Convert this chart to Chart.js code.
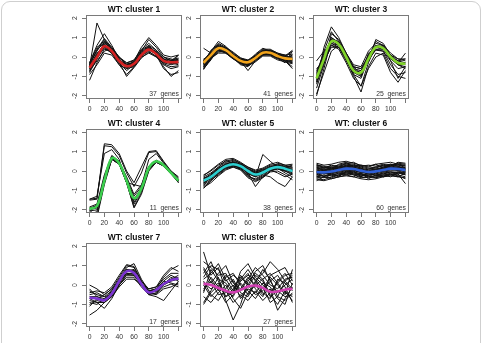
<!DOCTYPE html>
<html>
<head>
<meta charset="utf-8">
<script src="https://cdn.jsdelivr.net/npm/chart.js@4/dist/chart.umd.min.js"></script>
<style>
  body { margin: 0; background: #fff; }
  #wrap { position: relative; width: 483px; height: 343px; overflow: hidden; }
  #frame { position: absolute; left: 1px; top: 1px; width: 478px; height: 380px;
           border: 1px solid #cfcfcf; border-radius: 9px; }
  canvas { position: absolute; }
</style>
</head>
<body>
<div id="wrap"><div id="frame"></div></div>
<script>
// time points (minutes) and axis ticks
const times = [0, 10, 20, 30, 40, 50, 60, 70, 80, 90, 100, 110, 120];
const xTicks = [0, 20, 40, 60, 80, 100, 120];
const yTicks = [-2, -1, 0, 1, 2];

const titles = ['WT: cluster 1', 'WT: cluster 2', 'WT: cluster 3', 'WT: cluster 4',
                'WT: cluster 5', 'WT: cluster 6', 'WT: cluster 7', 'WT: cluster 8'];
const geneCounts = [37, 41, 25, 11, 38, 60, 17, 27];
const meanColors = ['#d42222', '#f2a41c', '#80d42a', '#3ccf4e', '#2ccfd0', '#2f5fd6', '#7b33d1', '#d23fb3'];

// cluster centroids
const mean1 = [-0.55, 0.0, 0.55, 0.3, -0.2, -0.47, -0.35, 0.1, 0.38, 0.15, -0.2, -0.27, -0.25];
const mean2 = [-0.3, 0.1, 0.45, 0.35, 0.05, -0.2, -0.27, -0.05, 0.22, 0.22, 0.05, -0.07, -0.1];
const mean3 = [-1.1, -0.1, 0.8, 0.65, 0.0, -0.7, -0.8, -0.1, 0.5, 0.45, 0.0, -0.3, -0.35];
const mean4 = [-1.95, -1.8, -0.5, 0.65, 0.4, -0.5, -1.4, -0.9, 0.15, 0.5, 0.3, -0.1, -0.5];
const mean5 = [-0.5, -0.3, 0.0, 0.25, 0.35, 0.25, 0.0, -0.18, -0.08, 0.12, 0.2, 0.12, 0.0];
const mean6 = [-0.05, -0.07, -0.03, 0.05, 0.12, 0.1, 0.02, -0.05, -0.02, 0.05, 0.12, 0.1, 0.05];
const mean7 = [-0.65, -0.7, -0.78, -0.45, 0.2, 0.7, 0.62, 0.05, -0.38, -0.25, 0.05, 0.25, 0.33];
const mean8 = [0.07, 0.0, -0.15, -0.3, -0.38, -0.25, -0.08, -0.03, -0.15, -0.35, -0.33, -0.24, -0.19];

// individual gene profiles (a readable subset of each cluster)
const genes1 = [
  [-0.5, 1.75, 0.9, 0.4, -0.1, -0.45, -0.3, 0.3, 0.9, 0.5, 0.0, -0.2, -0.1],
  [-0.3, 0.6, 1.2, 0.6, -0.1, -0.5, -0.2, 0.4, 0.7, 0.35, -0.1, -0.3, 0.1],
  [-0.8, -0.1, 0.8, 0.5, -0.1, -0.6, -0.5, 0.0, 0.5, 0.2, -0.4, -0.6, -0.5],
  [-1.2, -0.3, 0.4, 0.3, -0.3, -0.7, -0.4, 0.2, 0.45, 0.1, -0.6, -0.9, -0.8],
  [-0.4, 0.3, 0.9, 0.35, -0.2, -0.35, -0.3, 0.2, 0.4, 0.3, -0.2, -0.2, 0.1],
  [-0.6, 0.1, 0.7, 0.2, -0.3, -0.5, -0.4, 0.05, 0.3, 0.0, -0.3, -0.4, -0.3],
  [-0.7, -0.2, 0.3, 0.45, 0.0, -0.4, -0.3, 0.15, 0.45, 0.2, -0.1, -0.3, -0.4],
  [-0.5, 0.2, 0.5, 0.2, -0.4, -0.9, -0.5, 0.1, 0.6, 0.1, -0.5, -1.0, -0.7],
  [-0.4, 0.4, 0.95, 0.5, 0.0, -0.3, -0.2, 0.5, 1.0, 0.6, 0.1, 0.0, 0.1],
  [-0.9, -0.4, 0.2, 0.1, -0.4, -0.6, -0.3, 0.0, 0.2, 0.0, -0.3, -0.2, -0.2],
  [-0.6, 0.0, 0.6, 0.3, -0.2, -0.5, -0.4, 0.1, 0.35, 0.15, -0.25, -0.3, -0.3],
  [-0.3, 0.5, 0.8, 0.3, -0.15, -0.4, -0.25, 0.3, 0.55, 0.25, -0.1, -0.15, -0.05],
  [-0.75, 0.15, 0.65, 0.25, -0.25, -1.0, -0.55, -0.05, 0.25, 0.05, -0.35, -0.5, -0.45],
  [-0.45, 0.1, 0.45, 0.2, -0.2, -0.45, -0.3, 0.25, 0.5, 0.2, -0.15, -0.25, -0.15],
  [-0.35, 0.35, 0.75, 0.4, -0.05, -0.3, -0.15, 0.35, 0.6, 0.35, 0.0, -0.1, -0.2],
  [-0.65, -0.1, 0.5, 0.35, -0.15, -0.55, -0.45, 0.05, 0.4, 0.25, -0.2, -0.35, -0.1]
];
const genes2 = [
  [0.45, 0.2, 0.5, 0.4, 0.1, -0.15, -0.2, 0.0, 0.3, 0.25, 0.1, 0.0, 0.3],
  [-0.6, -0.1, 0.3, 0.25, 0.0, -0.3, -0.4, -0.15, 0.15, 0.15, 0.0, -0.2, -0.5],
  [-0.4, 0.3, 0.8, 0.55, 0.15, -0.1, -0.2, 0.05, 0.35, 0.35, 0.15, 0.0, 0.0],
  [-0.2, 0.15, 0.5, 0.3, 0.0, -0.3, -0.3, -0.05, 0.2, 0.2, 0.05, -0.1, -0.2],
  [-0.5, 0.0, 0.35, 0.4, 0.1, -0.2, -0.7, -0.2, 0.1, 0.3, 0.1, -0.2, -0.3],
  [-0.3, 0.2, 0.6, 0.4, 0.05, -0.25, -0.3, 0.0, 0.3, 0.2, 0.0, -0.05, 0.1],
  [-0.1, 0.05, 0.4, 0.2, -0.1, -0.2, -0.2, -0.1, 0.15, 0.1, -0.05, -0.15, -0.3],
  [-0.35, 0.15, 0.5, 0.45, 0.15, -0.15, -0.35, 0.0, 0.3, 0.3, 0.1, 0.05, 0.35],
  [-0.65, -0.05, 0.2, 0.2, -0.05, -0.4, -0.5, -0.1, 0.1, 0.1, -0.1, -0.2, -0.6],
  [-0.2, 0.3, 0.7, 0.5, 0.2, -0.05, -0.15, 0.1, 0.4, 0.4, 0.2, 0.05, 0.0],
  [-0.3, 0.1, 0.45, 0.35, 0.05, -0.2, -0.3, -0.05, 0.25, 0.2, 0.05, -0.1, -0.15],
  [-0.45, 0.05, 0.4, 0.3, 0.0, -0.3, -0.35, -0.1, 0.15, 0.2, 0.0, -0.1, -0.2],
  [-0.15, 0.25, 0.55, 0.4, 0.1, -0.1, -0.2, 0.05, 0.3, 0.25, 0.1, 0.0, -0.05],
  [-0.5, -0.1, 0.25, 0.3, 0.0, -0.25, -0.45, -0.2, 0.1, 0.15, -0.05, -0.3, 0.3],
  [-0.25, 0.2, 0.65, 0.45, 0.1, -0.15, -0.25, 0.05, 0.35, 0.3, 0.1, -0.05, -0.1],
  [-0.4, -0.05, 0.35, 0.25, -0.05, -0.35, -0.4, -0.1, 0.2, 0.15, -0.05, -0.15, -0.25],
  [-0.55, 0.0, 0.55, 0.5, 0.25, -0.05, -0.2, -0.05, 0.25, 0.35, 0.2, 0.1, 0.15],
  [-0.2, 0.2, 0.35, 0.2, -0.1, -0.35, -0.45, -0.25, 0.05, 0.05, -0.15, -0.25, -0.35],
  [-0.35, 0.35, 0.6, 0.3, 0.0, -0.15, -0.25, 0.15, 0.45, 0.3, 0.15, 0.1, -0.1],
  [-0.6, -0.15, 0.45, 0.45, 0.1, -0.3, -0.2, -0.1, 0.2, 0.25, -0.05, -0.15, 0.1]
];
const genes3 = [
  [-1.3, 0.5, 1.55, 1.0, 0.2, -0.6, -1.0, 0.0, 0.8, 0.6, -0.2, -0.6, -0.5],
  [-2.0, -0.6, 0.9, 0.8, 0.1, -0.9, -1.5, -0.3, 0.6, 0.5, 0.0, -0.4, -0.6],
  [-0.2, 0.3, 0.6, 0.5, 0.0, -0.5, -0.6, 0.0, 0.4, 0.4, -0.1, -0.3, 0.2],
  [-1.0, 0.0, 1.0, 0.7, 0.1, -0.6, -0.9, -0.2, 0.9, 0.7, 0.1, -0.2, -0.3],
  [-0.6, -0.2, 0.5, 0.5, -0.1, -1.0, -1.8, -0.5, 0.2, 0.1, -0.8, -1.3, -0.7],
  [-1.6, -0.4, 1.2, 0.9, 0.2, -0.4, -0.5, 0.3, 0.7, 0.6, 0.2, -0.1, -0.2],
  [-1.1, 0.1, 0.7, 0.5, -0.2, -0.9, -1.1, -0.1, 0.5, 0.4, -0.1, -0.4, -0.5],
  [-0.8, 0.2, 0.9, 0.7, 0.2, -0.5, -0.6, 0.1, 0.6, 0.5, 0.1, -0.1, -0.1],
  [-1.4, -0.3, 0.6, 0.4, -0.3, -1.1, -1.5, -0.6, 0.0, 0.2, -0.6, -1.0, -1.1],
  [-1.9, -0.8, 0.3, 0.6, 0.0, -0.8, -1.0, 0.2, 0.5, 0.45, 0.05, -0.35, -0.4],
  [-0.9, 0.3, 1.3, 0.8, 0.1, -0.6, -0.7, 0.0, 0.5, 0.6, 0.1, -0.4, -0.3],
  [-1.2, -0.1, 0.8, 0.6, 0.0, -0.7, -0.8, -0.2, 0.4, 0.3, -0.4, -0.9, -0.8],
  [-0.7, 0.0, 1.0, 0.75, 0.05, -0.5, -0.9, 0.1, 0.55, 0.5, 0.0, -0.2, -0.1],
  [-1.3, -0.2, 0.7, 0.6, -0.1, -0.8, -0.7, -0.1, 0.35, 0.3, -0.2, -1.1, -0.5]
];
const genes4 = [
  [-1.45, -1.4, 1.4, 1.35, 0.9, 0.0, -0.6, 0.2, 1.0, 1.05, 0.5, 0.0, -0.35],
  [-1.5, -1.45, 1.3, 1.25, 0.8, -0.1, -0.8, -0.1, 0.95, 1.0, 0.45, -0.05, -0.4],
  [-1.45, -1.3, 0.9, 1.1, 0.6, -0.6, -0.7, -0.8, 0.6, 0.9, 0.4, 0.0, -0.3],
  [-2.0, -1.9, -0.4, 0.7, 0.45, -0.5, -1.5, -1.0, 0.2, 0.5, 0.3, -0.1, -0.5],
  [-2.1, -2.3, -0.6, 0.6, 0.4, -0.6, -1.7, -1.0, 0.1, 0.45, 0.25, -0.15, -0.55],
  [-1.9, -1.8, -0.3, 0.75, 0.5, -0.4, -1.3, -0.8, 0.2, 0.55, 0.35, -0.05, -0.45],
  [-2.0, -2.4, -0.7, 0.6, 0.35, -0.6, -1.85, -1.1, 0.05, 0.45, 0.3, -0.1, -0.6],
  [-1.85, -1.7, -0.2, 0.8, 0.5, -0.3, -1.2, -0.7, 0.25, 0.55, 0.35, 0.0, -0.45],
  [-2.05, -2.0, -0.5, 0.65, 0.4, -0.55, -1.6, -1.0, 0.1, 0.5, 0.3, -0.1, -0.5],
  [-2.2, -2.1, -0.45, 0.7, 0.45, -0.45, -1.45, -0.9, 0.15, 0.5, 0.3, -0.05, -0.5],
  [-1.95, -1.75, -0.55, 0.6, 0.35, -0.6, -1.9, -1.2, 0.0, 0.45, 0.25, -0.15, -0.6]
];
const genes5 = [
  [-0.9, -0.5, -0.1, 0.2, 0.3, 0.1, -0.2, -0.5, -0.3, 0.0, 0.1, 0.0, -0.2],
  [-0.2, 0.0, 0.3, 0.5, 0.6, 0.4, 0.2, 0.0, 0.1, 0.3, 0.35, 0.25, 0.2],
  [-0.6, -0.4, 0.1, 0.4, 0.45, 0.3, -0.1, -0.3, 0.85, 0.5, 0.2, 0.0, 0.1],
  [-0.5, -0.2, 0.05, 0.3, 0.4, 0.3, 0.05, -0.1, 0.0, 0.2, 0.3, 0.2, 0.05],
  [-0.7, -0.45, -0.2, 0.1, 0.25, 0.15, -0.1, -0.8, -0.3, 0.0, 0.15, -0.1, -0.3],
  [-0.4, -0.25, 0.1, 0.35, 0.5, 0.35, 0.1, -0.1, 0.0, 0.2, 0.25, 0.15, 0.1],
  [-0.55, -0.3, 0.0, 0.2, 0.3, 0.2, -0.05, -0.2, -0.1, 0.1, 0.2, 0.1, 0.0],
  [-0.8, -0.5, -0.15, 0.15, 0.2, 0.1, -0.3, -0.4, -0.2, -0.3, -0.6, -0.8, -0.3],
  [-0.3, -0.1, 0.2, 0.45, 0.55, 0.4, 0.1, -0.05, 0.05, 0.25, 0.3, 0.2, 0.3],
  [-0.45, -0.35, -0.05, 0.25, 0.35, 0.25, 0.0, -0.2, -0.05, 0.15, 0.2, 0.1, -0.05],
  [-0.65, -0.2, 0.1, 0.3, 0.4, 0.2, -0.05, -0.25, -0.15, 0.05, 0.15, 0.05, -0.1],
  [-0.35, -0.25, 0.05, 0.3, 0.35, 0.3, 0.05, -0.15, -0.05, 0.15, 0.25, 0.15, 0.05],
  [-0.6, -0.35, -0.1, 0.15, 0.25, 0.2, -0.15, -0.3, -0.15, 0.05, 0.1, 0.0, -0.15],
  [-0.4, -0.15, 0.15, 0.35, 0.45, 0.3, 0.0, -0.15, 0.0, 0.2, 0.3, 0.2, 0.15],
  [-0.75, -0.2, 0.2, 0.55, 0.4, 0.15, -0.25, -0.45, -0.25, 0.1, 0.4, 0.3, 0.2],
  [-0.5, -0.4, -0.1, 0.2, 0.45, 0.35, 0.15, -0.05, 0.1, 0.05, -0.1, -0.3, -0.15],
  [-0.85, -0.6, -0.25, 0.05, 0.2, 0.05, -0.35, -0.55, -0.35, -0.05, 0.0, -0.2, -0.45],
  [-0.25, 0.05, 0.35, 0.6, 0.65, 0.45, 0.2, 0.05, 0.15, 0.35, 0.45, 0.3, 0.35]
];
const genes6 = [
  [0.3, 0.2, 0.25, 0.3, 0.4, 0.35, 0.2, 0.1, 0.2, 0.3, 0.35, 0.3, 0.25],
  [-0.4, -0.45, -0.3, -0.2, -0.15, -0.2, -0.3, -0.35, -0.3, -0.2, -0.15, -0.2, -0.3],
  [0.1, 0.0, 0.1, 0.15, 0.25, 0.2, 0.1, 0.0, 0.1, 0.15, 0.25, 0.2, 0.15],
  [-0.2, -0.25, -0.15, -0.05, 0.0, -0.05, -0.15, -0.2, -0.15, -0.05, 0.0, 0.0, -0.1],
  [0.0, -0.1, 0.05, 0.15, 0.2, 0.15, 0.05, -0.05, 0.0, 0.1, 0.2, 0.15, 0.1],
  [-0.1, 0.05, -0.05, 0.0, 0.1, 0.05, -0.05, -0.1, -0.05, 0.0, 0.1, 0.05, -0.05],
  [0.2, 0.1, 0.15, 0.2, 0.3, 0.25, 0.15, 0.05, 0.1, 0.2, 0.3, 0.25, 0.3],
  [-0.3, -0.2, -0.25, -0.1, -0.05, -0.1, -0.2, -0.3, -0.25, -0.15, -0.05, -0.1, -0.15],
  [0.05, -0.05, 0.0, 0.1, 0.15, 0.1, 0.0, -0.1, 0.0, 0.05, 0.15, 0.1, 0.05],
  [-0.15, -0.1, -0.1, 0.0, 0.05, 0.0, -0.05, -0.15, -0.1, 0.0, 0.05, 0.05, 0.0],
  [0.15, 0.05, 0.1, 0.2, 0.25, 0.2, 0.1, 0.0, 0.05, 0.15, 0.2, 0.2, 0.2],
  [-0.25, -0.35, -0.2, -0.15, -0.1, -0.15, -0.25, -0.2, -0.2, -0.1, -0.05, -0.15, -0.65],
  [0.0, 0.1, 0.0, 0.05, 0.15, 0.1, 0.05, -0.05, 0.05, 0.1, 0.15, 0.15, 0.1],
  [-0.05, -0.15, -0.05, 0.05, 0.05, 0.05, -0.1, -0.1, -0.05, 0.0, 0.1, 0.1, 0.0],
  [0.25, 0.15, 0.2, 0.25, 0.35, 0.3, 0.25, 0.15, 0.2, 0.25, 0.3, 0.35, 0.15],
  [-0.35, -0.3, -0.35, -0.2, -0.1, -0.15, -0.2, -0.25, -0.35, -0.25, -0.1, -0.1, -0.2],
  [0.3, 0.25, 0.1, 0.35, 0.45, 0.2, 0.3, 0.2, 0.35, 0.15, 0.3, 0.4, 0.35],
  [-0.5, -0.3, -0.4, -0.3, -0.2, -0.3, -0.1, -0.4, -0.2, -0.3, -0.2, -0.3, -0.1],
  [0.1, 0.2, 0.15, 0.05, 0.3, 0.25, -0.05, 0.1, 0.15, 0.3, 0.2, 0.0, 0.2],
  [-0.2, -0.05, -0.2, -0.25, -0.05, 0.0, -0.3, -0.05, -0.25, -0.1, -0.2, -0.05, -0.2],
  [0.4, 0.3, 0.35, 0.45, 0.5, 0.4, 0.3, 0.25, 0.35, 0.4, 0.45, 0.35, 0.3],
  [-0.45, -0.5, -0.4, -0.3, -0.25, -0.3, -0.4, -0.45, -0.4, -0.3, -0.25, -0.3, -0.35],
  [0.2, 0.0, 0.2, 0.1, 0.2, 0.3, 0.15, -0.1, 0.05, 0.2, 0.35, 0.25, 0.1],
  [-0.3, -0.1, -0.15, -0.3, 0.0, -0.2, -0.35, -0.3, -0.1, -0.3, -0.15, -0.25, -0.4],
  [0.35, 0.15, 0.3, 0.2, 0.4, 0.45, 0.25, 0.3, 0.25, 0.35, 0.25, 0.45, 0.4],
  [-0.1, -0.3, -0.1, -0.1, -0.2, -0.05, -0.15, -0.25, -0.35, -0.2, -0.3, -0.1, -0.05]
];
const genes7 = [
  [-1.55, -1.3, -0.9, -0.5, 0.2, 0.8, 0.7, 0.0, -0.4, -0.3, 0.1, 0.3, 0.4],
  [0.0, -0.2, -0.5, -0.2, 0.4, 1.0, 0.9, 0.2, -0.2, -0.1, 0.5, 0.9, 0.7],
  [-0.8, -0.9, -1.2, -0.7, 0.0, 0.5, 0.5, 0.0, -0.5, -0.4, 0.0, 0.2, 0.3],
  [-0.3, -0.5, -0.6, -0.3, 0.3, 0.9, 1.1, 0.3, -0.3, -0.2, 0.2, 0.5, 0.3],
  [-0.6, -0.6, -0.7, -0.5, 0.1, 0.6, 0.6, 0.1, -0.4, -0.5, -0.2, -0.1, 0.1],
  [-1.0, -0.8, -0.9, -0.6, 0.0, 0.4, 0.4, -0.1, -0.5, -0.6, -0.8, -0.3, 0.2],
  [-0.4, -0.3, -0.4, -0.1, 0.5, 1.05, 0.95, 0.2, -0.3, -0.2, 0.4, 0.8, 1.0],
  [-0.7, -0.9, -0.9, -0.6, -0.1, 0.3, 0.3, 0.0, -0.4, -0.3, 0.1, 0.3, 0.5],
  [-0.2, -0.6, -0.8, -0.3, 0.3, 0.8, 0.75, 0.1, -0.3, -0.35, 0.0, 0.4, 0.2],
  [-0.9, -1.0, -0.7, -0.4, 0.1, 0.7, 0.8, 0.2, -0.2, -0.1, 0.3, 0.6, 0.6],
  [-0.5, -0.4, -0.6, -0.5, 0.0, 0.55, 0.5, 0.05, -0.45, -0.45, -0.1, 0.05, -0.1],
  [-1.1, -0.7, -0.5, -0.2, 0.2, 0.6, 0.55, 0.0, -0.35, -0.2, 0.2, 0.1, 0.0]
];
const genes8 = [
  [1.7, 0.5, 0.9, -0.3, -0.6, 0.2, 0.5, 0.3, -0.2, 0.4, 0.0, -0.5, 0.8],
  [-0.9, -0.3, 0.4, -0.8, -1.8, -1.0, 0.2, 0.6, 0.3, -0.5, -1.0, -0.3, -0.8],
  [0.6, 1.2, 0.3, 0.1, -0.4, 0.7, 1.1, 0.4, 0.0, -0.4, 0.2, 0.6, 0.0],
  [0.2, -0.5, -0.8, -0.2, 0.3, -0.4, -0.6, 0.1, 0.8, 0.3, -0.6, -0.8, -0.4],
  [-0.4, 0.8, 0.2, -0.6, -0.2, 0.4, 0.0, -0.5, -0.3, 0.2, 0.5, -0.1, -0.9],
  [1.2, 0.9, 0.5, 0.6, -0.1, -0.3, 0.3, 0.9, 0.5, 0.0, -0.2, 0.3, 0.4],
  [0.0, -0.6, -0.2, -0.9, -0.5, 0.1, -0.3, -0.7, -0.1, -0.9, -0.6, 0.2, -0.2],
  [0.9, 0.3, -0.3, 0.4, 0.6, 0.0, -0.5, 0.2, 0.6, 1.2, 0.8, 0.2, 0.5],
  [-0.6, -0.9, -0.4, 0.0, -0.7, -1.2, -0.4, 0.0, -0.5, -0.2, -1.3, -0.7, -0.1],
  [0.4, 1.0, 0.8, 0.2, 0.5, 0.2, 0.6, -0.2, -0.6, 0.5, 0.7, 0.9, 0.2],
  [-0.2, 0.2, -0.5, -0.4, 0.0, -0.6, -0.1, 0.5, 0.2, -0.6, -0.3, -0.6, -0.5],
  [0.8, 0.1, 0.6, 1.0, 0.1, -0.2, 0.4, 0.0, 0.3, 0.6, 0.1, 0.5, 0.6],
  [-1.0, -0.4, 0.0, -0.3, -0.9, -0.5, -0.8, -0.3, -0.8, -0.4, 0.1, -0.4, -0.6],
  [0.3, 0.6, 1.1, 0.3, -0.3, 0.5, 0.0, 0.7, 1.0, 0.2, -0.4, 0.0, 0.3],
  [0.1, -0.2, 0.1, -0.6, -0.4, 0.3, 0.8, 0.2, -0.4, -0.7, 0.3, 0.1, -0.3],
  [-0.3, 0.4, -0.1, 0.5, 0.2, -0.7, -0.2, -0.4, 0.1, -0.1, -0.7, -1.0, 0.1]
];

const means = [mean1, mean2, mean3, mean4, mean5, mean6, mean7, mean8];
const geneSets = [genes1, genes2, genes3, genes4, genes5, genes6, genes7, genes8];

// canvas placement: 3 columns x 3 rows
const colLeft = [66, 180, 293];
const rowTop = [0, 114, 228];
const FONT = "'Liberation Sans', Arial, sans-serif";

const toPoints = arr => arr.map((v, i) => ({ x: times[i], y: v }));

// box, rotated y labels, title and gene count, drawn R style
const panelDecor = {
  id: 'panelDecor',
  afterDraw(chart, args, opts) {
    const { ctx, chartArea: a } = chart;
    const ys = chart.scales.y;
    ctx.save();
    ctx.strokeStyle = '#7a7a7a';
    ctx.lineWidth = 1;
    ctx.strokeRect(a.left + 0.5, a.top + 0.5, a.right - a.left - 1, a.bottom - a.top - 1);

    ctx.fillStyle = '#333';
    ctx.font = '6.8px ' + FONT;
    ctx.textAlign = 'center';
    ctx.textBaseline = 'middle';
    ys.ticks.forEach(t => {
      ctx.save();
      ctx.translate(a.left - 11, ys.getPixelForValue(t.value));
      ctx.rotate(-Math.PI / 2);
      ctx.fillText(String(t.value), 0, 0);
      ctx.restore();
    });

    ctx.fillStyle = '#111';
    ctx.font = 'bold 8.5px ' + FONT;
    ctx.fillText(opts.title, (a.left + a.right) / 2, 9.5);

    ctx.fillStyle = '#333';
    ctx.font = '6.8px ' + FONT;
    ctx.textAlign = 'right';
    ctx.textBaseline = 'alphabetic';
    ctx.fillText(opts.count + '  genes', a.right - 3, a.bottom - 3);
    ctx.restore();
  }
};

for (let k = 0; k < 8; k++) {
  const cv = document.createElement('canvas');
  cv.width = 118;
  cv.height = 115;
  cv.style.left = colLeft[k % 3] + 'px';
  cv.style.top = rowTop[Math.floor(k / 3)] + 'px';
  cv.style.width = '118px';
  cv.style.height = '115px';
  document.getElementById('wrap').appendChild(cv);

  // centroid first so it is painted on top of the gene lines
  const datasets = [{
    data: toPoints(means[k]),
    borderColor: meanColors[k],
    borderWidth: 2.6,
    pointRadius: 0,
    tension: 0.4
  }];
  geneSets[k].forEach(g => datasets.push({
    data: toPoints(g),
    borderColor: '#111',
    borderWidth: 1,
    pointRadius: 0,
    tension: 0
  }));

  new Chart(cv.getContext('2d'), {
    type: 'line',
    data: { datasets },
    options: {
      responsive: false,
      animation: false,
      events: [],
      layout: { padding: { top: 15, right: 2, left: 0, bottom: 0 } },
      plugins: {
        legend: { display: false },
        tooltip: { enabled: false },
        panelDecor: { title: titles[k], count: geneCounts[k] }
      },
      scales: {
        x: {
          type: 'linear',
          min: -4.8,
          max: 124.8,
          afterBuildTicks: s => { s.ticks = xTicks.map(v => ({ value: v })); },
          afterFit: s => { s.height = 16; },
          ticks: {
            callback: v => (v === 120 ? '' : String(v)),
            font: { family: FONT, size: 6.8 },
            color: '#333',
            padding: 2,
            maxRotation: 0,
            autoSkip: false
          },
          grid: { drawOnChartArea: false, drawTicks: true, tickLength: 4, color: '#777' },
          border: { display: false }
        },
        y: {
          min: -2.16,
          max: 2.16,
          afterBuildTicks: s => { s.ticks = yTicks.map(v => ({ value: v })); },
          afterFit: s => { s.width = 20; },
          ticks: { display: false },
          grid: { drawOnChartArea: false, drawTicks: true, tickLength: 4, color: '#777' },
          border: { display: false }
        }
      }
    },
    plugins: [panelDecor]
  });
}
</script>
</body>
</html>
